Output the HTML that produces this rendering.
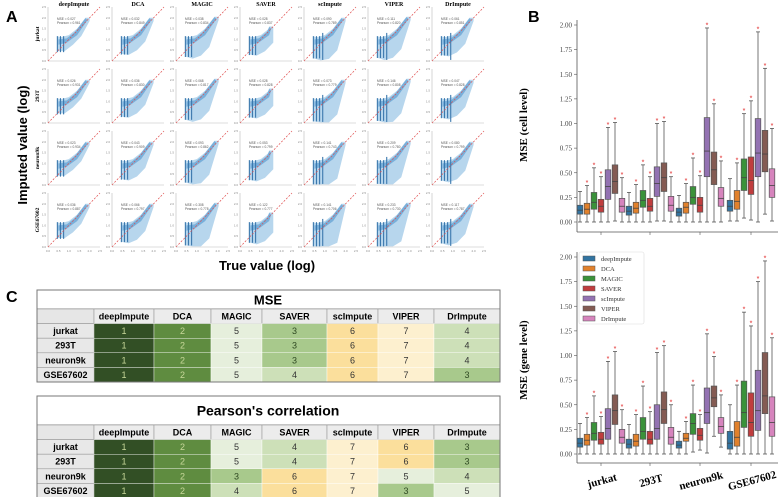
<!DOCTYPE html>
<html><head><meta charset="utf-8">
<style>
body{margin:0;background:#fff;width:778px;height:497px;overflow:hidden;font-family:"Liberation Sans",sans-serif;}
#root{position:relative;width:778px;height:497px;}
svg text{font-family:"Liberation Sans",sans-serif;}
.serif{font-family:"Liberation Serif",serif;}
</style></head>
<body><div id="root">
<svg id="svg" width="778" height="497" viewBox="0 0 778 497" xmlns="http://www.w3.org/2000/svg">
<text x="6" y="22" font-size="16" font-weight="bold">A</text>
<text x="528" y="22" font-size="16" font-weight="bold">B</text>
<text x="6" y="302" font-size="16" font-weight="bold">C</text>
<text transform="translate(27,145) rotate(-90)" text-anchor="middle" font-size="13" font-weight="bold">Imputed value (log)</text>
<text x="267" y="270" text-anchor="middle" font-size="13" font-weight="bold">True value (log)</text>
<g id="gA"></g><g id="gB"></g><g id="gC"></g>
</svg>
</div>
<script>
const NS="http://www.w3.org/2000/svg";
function mk(p,tag,attrs,txt){const e=document.createElementNS(NS,tag);for(const k in attrs)e.setAttribute(k,attrs[k]);if(txt!==undefined)e.textContent=txt;p.appendChild(e);return e;}

/* ---------- Panel A data ---------- */
const methodsA=["deepImpute","DCA","MAGIC","SAVER","scImpute","VIPER","DrImpute"];
const datasetsA=["jurkat","293T","neuron9k","GSE67602"];
const mseA=[[0.027,0.032,0.038,0.028,0.090,0.111,0.061],[0.026,0.036,0.068,0.028,0.073,0.146,0.047],[0.023,0.043,0.093,0.053,0.141,0.209,0.080],[0.036,0.066,0.308,0.122,0.141,0.233,0.117]];
const pearA=[[0.961,0.849,0.834,0.837,0.789,0.820,0.851],[0.931,0.830,0.817,0.828,0.779,0.808,0.828],[0.934,0.909,0.862,0.799,0.743,0.780,0.799],[0.887,0.797,0.778,0.777,0.706,0.730,0.787]];
const spreadA=[0.2,0.45,0.7,0.5,0.85,0.8,0.55];
const topA=[2.0,2.0,2.05,1.6,2.0,2.05,2.0];
const ticksA=["0.0","0.5","1.0","1.5","2.0","2.5"];
const gA=document.getElementById("gA");
const PW=52,PH=54;
for(let r=0;r<4;r++){for(let c=0;c<7;c++){
  const x0=48+c*64,y0=7+r*62;
  const sx=v=>x0+v/2.5*PW, sy=v=>y0+PH-v/2.5*PH;
  const g=mk(gA,"g",{});
  
  
  mk(g,"line",{x1:x0,y1:y0,x2:x0,y2:y0+PH,stroke:"#bbb","stroke-width":0.6});
  mk(g,"line",{x1:x0,y1:y0+PH,x2:x0+PW,y2:y0+PH,stroke:"#bbb","stroke-width":0.6});
  const s=Math.min(1.2,spreadA[c]*(1+r*0.12));
  const tx=topA[c], ty=topA[c];
  const cl=v=>Math.max(0.03,v);
  const pts=[[0.45,1.15],[0.45,cl(0.55-0.5*s)],[0.8,cl(0.6-0.7*s)],[1.2,cl(0.95-1.0*s)],[1.6,cl(1.35-1.0*s)],[tx,ty-0.15],[tx,ty],[tx-0.2,ty+0.0],[1.4,1.5],[1.0,1.2],[0.6,1.1]];
  mk(g,"polygon",{points:pts.map(p=>sx(p[0])+","+sy(p[1])).join(" "),fill:"#b3d4ec",opacity:0.95});
  const core=[[0.5,0.75],[0.9,0.85],[1.4,1.2],[tx-0.1,ty-0.1],[tx-0.2,ty-0.02],[1.3,1.35],[0.9,1.05],[0.5,1.0]];
  mk(g,"polygon",{points:core.map(p=>sx(p[0])+","+sy(p[1])).join(" "),fill:"#6fa8d6",opacity:0.85});
  [0.45,0.6,0.75].forEach(v=>{mk(g,"line",{x1:sx(v),x2:sx(v),y1:sy(1.15),y2:sy(cl(0.5-0.45*s)),stroke:"#3b78ad","stroke-width":1.1});});
  if(c>=4){mk(g,"line",{x1:sx(0.9),x2:sx(0.9),y1:sy(1.3),y2:sy(0.05),stroke:"#3b78ad","stroke-width":1.1});}
  mk(g,"line",{x1:sx(0),y1:sy(0),x2:sx(2.5),y2:sy(2.5),stroke:"#e05050","stroke-width":0.7,"stroke-dasharray":"2,1.5"});
  mk(g,"text",{x:x0+9,y:y0+13,"font-size":3.2,fill:"#555"},"MSE = "+mseA[r][c].toFixed(3));
  mk(g,"text",{x:x0+9,y:y0+17,"font-size":3.2,fill:"#555"},"Pearson = "+pearA[r][c].toFixed(3));
  for(let i=0;i<6;i++){mk(g,"text",{x:x0-2,y:sy(i*0.5)+1,"font-size":3,fill:"#888","text-anchor":"end"},ticksA[i]);}
  if(r==3){for(let i=0;i<6;i++){mk(g,"text",{x:sx(i*0.5),y:y0+PH+5,"font-size":3,fill:"#888","text-anchor":"middle"},ticksA[i]);}}
}}
methodsA.forEach((m,c)=>{const t=mk(gA,"text",{x:48+c*64+PW/2,y:6,"font-size":6,"font-weight":"bold","text-anchor":"middle",class:"serif"},m);
  });
datasetsA.forEach((d,r)=>{const t=mk(gA,"text",{transform:"translate(39,"+(7+r*62+PH/2)+") rotate(-90)","font-size":5.5,"font-weight":"bold","text-anchor":"middle",class:"serif"},d);
  });

/* ---------- Panel B data ---------- */
const categoriesB=["jurkat","293T","neuron9k","GSE67602"];
const methodsB=["deepImpute","DCA","MAGIC","SAVER","scImpute","VIPER","DrImpute"];
const colorsB=["#3274a1","#e1812c","#3a923a","#c03d3e","#9372b2","#845b53","#d684bd"];
const yTicksB=["0.00","0.25","0.50","0.75","1.00","1.25","1.50","1.75","2.00"];
const cellQ1=[[.08,.08,.13,.10,.23,.29,.10],[.07,.09,.15,.11,.26,.31,.11],[.06,.09,.18,.10,.46,.38,.16],[.11,.13,.32,.28,.46,.51,.25]];
const cellMed=[[.12,.13,.20,.16,.36,.41,.16],[.11,.14,.22,.16,.39,.45,.17],[.10,.15,.25,.17,.72,.53,.24],[.16,.21,.45,.42,.70,.69,.37]];
const cellQ3=[[.17,.19,.30,.23,.53,.58,.24],[.16,.20,.32,.24,.56,.60,.26],[.14,.20,.36,.25,1.06,.71,.35],[.22,.32,.64,.66,1.05,.93,.54]];
const cellHi=[[.31,.37,.55,.46,.96,1.01,.45],[.30,.38,.58,.46,1.00,1.02,.46],[.27,.39,.65,.47,1.97,1.20,.62],[.44,.60,1.10,1.23,1.93,1.56,.95]];
const cellLo=[[0,0,0,0,0,0.01,0],[0,0,0,0,0.01,0.01,0],[0,0,0,0,0,0,0],[0.01,0.01,0.04,0.02,0,0.08,0.01]];
const geneQ1=[[.07,.09,.14,.10,.15,.30,.11],[.06,.08,.15,.10,.15,.31,.10],[.06,.13,.20,.14,.31,.48,.21],[.05,.08,.27,.18,.24,.41,.18]];
const geneMed=[[.11,.14,.21,.15,.26,.44,.17],[.10,.13,.23,.15,.26,.45,.17],[.09,.16,.31,.19,.42,.57,.28],[.11,.17,.42,.32,.44,.59,.32]];
const geneQ3=[[.16,.20,.32,.22,.46,.60,.25],[.15,.20,.37,.23,.50,.63,.27],[.13,.21,.41,.26,.67,.69,.37],[.23,.33,.74,.62,.85,1.03,.58]];
const geneHi=[[.31,.37,.59,.38,.94,1.04,.45],[.30,.40,.69,.43,1.03,1.10,.50],[.23,.33,.70,.40,1.22,.99,.60],[.50,.70,1.44,1.30,1.75,1.96,1.18]];
const geneLo=[[0,0,0,0,0,0,0],[0,0,0,0,0,0,0],[0,0,0.02,0.04,0.01,0.18,0.07],[0,0,0,0,0,0,0]];
const gB=document.getElementById("gB");
const centersX=[601,650,700,751];
function boxPanel(name,yZero,yTwo,spineTop,spineBot,Q1,MED,Q3,HI,LO,title,titleY){
  const yv=v=>yZero-(v/2)*(yZero-yTwo);
  const g=mk(gB,"g",{});
  
  
  mk(g,"line",{x1:577,y1:spineTop,x2:577,y2:spineBot,stroke:"#555","stroke-width":0.8});
  mk(g,"line",{x1:577,y1:spineBot,x2:778,y2:spineBot,stroke:"#555","stroke-width":0.8});
  yTicksB.forEach((t,i)=>{const v=i*0.25;
    mk(g,"line",{x1:574,x2:577,y1:yv(v),y2:yv(v),stroke:"#555","stroke-width":0.6});
    mk(g,"text",{x:572,y:yv(v)+2.5,"font-size":7,"text-anchor":"end",fill:"#444",class:"serif"},t);});
  centersX.forEach(cx=>mk(g,"line",{x1:cx,x2:cx,y1:spineBot,y2:spineBot+3,stroke:"#555","stroke-width":0.6}));
  const tt=mk(g,"text",{transform:"translate(527,"+titleY+") rotate(-90)","font-size":11,"font-weight":"bold","text-anchor":"middle",class:"serif"},title);
  
  
  categoriesB.forEach((cat,ci)=>{methodsB.forEach((m,mi)=>{
    const cx=centersX[ci]+(mi-3)*7,w=5.6;
    const b=mk(g,"g",{});
    
    
    mk(b,"line",{x1:cx,x2:cx,y1:yv(HI[ci][mi]),y2:yv(LO[ci][mi]),stroke:"#555","stroke-width":0.8});
    mk(b,"line",{x1:cx-2,x2:cx+2,y1:yv(HI[ci][mi]),y2:yv(HI[ci][mi]),stroke:"#555","stroke-width":0.8});
    mk(b,"line",{x1:cx-2,x2:cx+2,y1:yv(LO[ci][mi]),y2:yv(LO[ci][mi]),stroke:"#555","stroke-width":0.8});
    mk(b,"rect",{x:cx-w/2,y:yv(Q3[ci][mi]),width:w,height:yv(Q1[ci][mi])-yv(Q3[ci][mi]),fill:colorsB[mi],stroke:"#555","stroke-width":0.7});
    mk(b,"line",{x1:cx-w/2,x2:cx+w/2,y1:yv(MED[ci][mi]),y2:yv(MED[ci][mi]),stroke:"#444","stroke-width":0.8});
    if(mi>0) mk(b,"text",{x:cx,y:yv(HI[ci][mi])-0.5,"font-size":7,fill:"#e02020","text-anchor":"middle"},"*");
  });});
}
boxPanel("boxplot-cell-level",222,25,20,232,cellQ1,cellMed,cellQ3,cellHi,cellLo,"MSE (cell level)",125);
boxPanel("boxplot-gene-level",454,257,252,463,geneQ1,geneMed,geneQ3,geneHi,geneLo,"MSE (gene level)",360);
const lg=mk(gB,"g",{});


mk(lg,"rect",{x:579,y:252,width:65,height:72,fill:"#fff",stroke:"#ddd","stroke-width":0.6,rx:2});
methodsB.forEach((m,i)=>{const e=mk(lg,"g",{});
  
  
  mk(e,"rect",{x:583,y:256+i*10,width:12,height:5,fill:colorsB[i],stroke:"#555","stroke-width":0.5});
  mk(e,"text",{x:601,y:261+i*10,"font-size":6.5,fill:"#333",class:"serif"},m);});
categoriesB.forEach((c,i)=>{const t=mk(gB,"text",{transform:"translate("+(centersX[i]+2)+",484) rotate(-15)","font-size":11,"font-weight":"bold","text-anchor":"middle",class:"serif"},c);
  });

/* ---------- Panel C tables ---------- */
const colsC=["deepImpute","DCA","MAGIC","SAVER","scImpute","VIPER","DrImpute"];
const rowsC=["jurkat","293T","neuron9k","GSE67602"];
const mseRank=[[1,2,5,3,6,7,4],[1,2,5,3,6,7,4],[1,2,5,3,6,7,4],[1,2,5,4,6,7,3]];
const pearRank=[[1,2,5,4,7,6,3],[1,2,5,4,7,6,3],[1,2,3,6,7,5,4],[1,2,4,6,7,3,5]];
const rankColor=["","#324f25","#5f8c40","#a8c98c","#cde0b8","#e6efdc","#fbdf9c","#fdf0cf"];
const colX=[37,94,154,211,262,327,378,434,500];
const gC=document.getElementById("gC");
function table(name,title,top,titleH,rank){
  const g=mk(gC,"g",{});
  
  
  const hy=top+titleH, rh=14.6;
  mk(g,"rect",{x:37,y:top,width:463,height:titleH,fill:"#fff",stroke:"#777","stroke-width":1});
  mk(g,"text",{x:268,y:top+titleH/2+5,"font-size":title=="MSE"?13:14,"font-weight":"bold","text-anchor":"middle"},title);
  for(let j=0;j<8;j++){mk(g,"rect",{x:colX[j],y:hy,width:colX[j+1]-colX[j],height:rh,fill:j==0?"#e6e6e6":"#ececec",stroke:"#999","stroke-width":0.6});
    if(j>0) mk(g,"text",{x:(colX[j]+colX[j+1])/2,y:hy+10.5,"font-size":9,"font-weight":"bold","text-anchor":"middle"},colsC[j-1]);}
  rowsC.forEach((rn,i)=>{const y=hy+rh*(i+1);
    mk(g,"rect",{x:colX[0],y:y,width:colX[1]-colX[0],height:rh,fill:"#e8e8e8",stroke:"#999","stroke-width":0.6});
    mk(g,"text",{x:(colX[0]+colX[1])/2,y:y+10.5,"font-size":9,"font-weight":"bold","text-anchor":"middle"},rn);
    for(let j=0;j<7;j++){const rk=rank[i][j];
      const c=mk(g,"rect",{x:colX[j+1],y:y,width:colX[j+2]-colX[j+1],height:rh,fill:rankColor[rk],stroke:"#fff","stroke-width":0.4});
      
      
      mk(g,"text",{x:(colX[j+1]+colX[j+2])/2,y:y+10.5,"font-size":9,fill:rk<=2?"#c8d89a":(rk==3?"#2f4a22":"#333"),"text-anchor":"middle"},String(rk));}
  });
  mk(g,"rect",{x:37,y:top,width:463,height:titleH+rh*5,fill:"none",stroke:"#777","stroke-width":1});
}
table("mse-rank-table","MSE",290,19,mseRank);
table("pearson-rank-table","Pearson's correlation",396,29,pearRank);
</script>
</body></html>
